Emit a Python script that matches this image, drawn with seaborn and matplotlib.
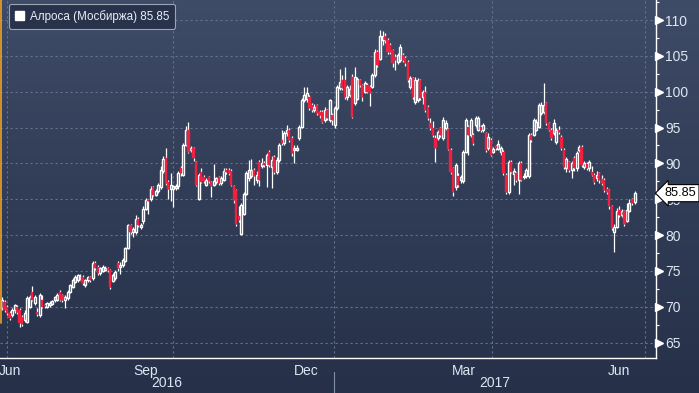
import numpy as np
import matplotlib
matplotlib.use("Agg")
import matplotlib.pyplot as plt
import matplotlib.transforms as mtransforms
from matplotlib.colors import LinearSegmentedColormap
from matplotlib.patches import Patch
from matplotlib.lines import Line2D
import seaborn as sns

# ALROSA (MOEX) daily candles, Jun 2016 - Jun 2017
opens = [
    69.9, 70.7, 70.0, 69.2, 68.9, 69.5, 70.0, 69.6, 68.6, 68.2, 67.9, 70.0,
    72.1, 70.6, 69.3, 68.9, 71.0, 70.3, 70.0, 70.2, 70.4, 70.9, 71.0, 72.1,
    71.6, 70.9, 71.2, 72.1, 72.8, 73.5, 73.7, 74.0, 74.2, 73.0, 73.7, 74.1,
    74.0, 76.1, 75.6, 74.7, 75.0, 75.2, 75.4, 75.1, 73.6, 74.0, 76.1, 75.5,
    75.8, 76.4, 78.2, 81.4, 80.4, 80.5, 82.3, 81.1, 81.9, 83.7, 84.9, 85.1,
    86.7, 85.6, 86.1, 86.7, 88.9, 90.7, 87.4, 86.4, 86.5, 86.6, 86.8, 89.3,
    88.4, 92.6, 94.7, 91.9, 92.1, 90.2, 85.1, 88.85, 88.1, 87.0, 88.1, 87.4,
    87.0, 87.4, 88.1, 87.2, 87.7, 89.1, 89.1, 89.0, 86.8, 86.3, 82.6, 80.2,
    83.0, 85.8, 87.9, 88.2, 89.1, 87.7, 90.2, 89.6, 90.0, 89.8, 91.6, 89.5,
    90.9, 88.8, 90.5, 93.3, 92.8, 94.2, 94.7, 93.5, 91.8, 91.9, 93.5, 95.1,
    98.8, 99.0, 99.3, 98.1, 97.4, 98.1, 97.2, 97.2, 96.1, 97.4, 96.0, 96.7,
    95.4, 97.7, 100.5, 101.6, 101.6, 99.3, 99.5, 102.1, 98.4, 99.0, 101.6, 100.9,
    100.0, 101.0, 100.7, 100.7, 102.3, 105.6, 104.6, 107.2, 107.7, 107.2, 106.5, 105.8,
    104.9, 104.2, 104.4, 105.1, 104.7, 104.2, 100.7, 101.9, 98.6, 98.9, 101.6, 99.3,
    100.0, 97.9, 95.6, 94.9, 93.5, 93.5, 94.9, 93.5, 95.0, 94.8, 91.9, 89.3,
    86.7, 88.3, 87.7, 87.5, 91.6, 95.1, 94.0, 94.0, 95.4, 94.7, 95.1, 94.7,
    94.2, 92.1, 93.3, 91.6, 92.4, 92.0, 91.6, 91.6, 88.4, 86.0, 90.2, 88.5,
    88.6, 87.7, 90.0, 88.1, 88.2, 88.2, 94.0, 94.0, 94.7, 95.1, 97.0, 97.2,
    98.4, 95.6, 94.7, 94.2, 93.0, 94.7, 93.7, 91.9, 89.3, 90.2, 89.1, 90.7,
    89.3, 91.9, 92.3, 89.5, 89.9, 89.3, 88.8, 88.4, 87.9, 88.6, 87.8, 87.7,
    86.5, 86.3, 84.0, 80.5, 81.2, 83.5, 82.8, 83.3, 82.0, 83.4, 85.0, 84.6,
]
highs = [
    71.4, 71.0, 70.3, 69.4, 69.8, 70.4, 70.2, 69.8, 68.9, 69.5, 71.5, 71.7,
    72.9, 71.6, 69.8, 71.9, 71.6, 70.5, 70.7, 70.8, 71.0, 71.5, 71.9, 72.4,
    71.8, 71.6, 72.3, 73.2, 74.0, 74.4, 74.6, 74.6, 74.5, 73.9, 74.3, 74.3,
    76.4, 76.4, 75.8, 75.6, 75.8, 75.7, 75.6, 75.3, 74.7, 75.1, 76.4, 76.2,
    76.8, 78.4, 81.6, 81.6, 81.2, 82.8, 82.5, 81.7, 84.0, 85.2, 85.1, 86.9,
    86.9, 86.4, 87.3, 89.6, 91.0, 92.1, 87.7, 88.7, 87.0, 87.1, 88.9, 89.6,
    92.9, 95.2, 95.8, 92.4, 92.3, 90.4, 88.6, 89.3, 88.4, 88.0, 88.3, 87.6,
    89.9, 88.1, 88.3, 88.2, 89.4, 89.4, 89.3, 89.2, 87.0, 86.5, 84.0, 84.5,
    86.0, 89.0, 90.5, 90.6, 89.4, 88.9, 90.5, 90.8, 90.3, 91.5, 91.8, 91.0,
    91.2, 90.9, 92.9, 94.6, 94.5, 95.4, 95.0, 93.8, 92.5, 92.6, 95.4, 99.1,
    100.6, 100.6, 99.5, 98.4, 98.3, 98.3, 97.5, 97.4, 97.8, 97.6, 99.0, 97.0,
    98.0, 101.0, 103.1, 102.3, 103.5, 101.0, 100.9, 102.5, 103.4, 102.1, 101.8, 101.1,
    101.5, 101.2, 100.9, 102.6, 105.9, 105.8, 108.6, 108.4, 108.2, 107.5, 106.8, 106.0,
    105.3, 105.4, 106.7, 105.4, 105.0, 104.4, 102.2, 102.1, 102.0, 101.9, 101.8, 100.3,
    100.8, 98.1, 96.3, 95.9, 94.0, 94.7, 95.1, 96.5, 96.0, 95.0, 92.1, 89.5,
    90.0, 88.6, 88.4, 91.9, 96.3, 95.3, 96.3, 94.2, 96.6, 96.6, 95.3, 95.6,
    94.4, 94.2, 93.5, 92.3, 92.6, 93.2, 92.4, 91.8, 88.6, 90.5, 90.5, 89.3,
    88.8, 90.3, 90.3, 88.6, 89.4, 94.3, 94.2, 96.3, 96.2, 98.4, 98.6, 101.2,
    98.6, 95.8, 94.9, 96.2, 95.0, 95.2, 93.9, 92.1, 90.9, 90.4, 90.3, 91.0,
    91.7, 92.6, 92.5, 90.4, 90.2, 90.5, 89.6, 88.6, 88.9, 88.8, 88.4, 87.9,
    86.7, 86.5, 84.2, 81.5, 83.8, 84.0, 83.6, 83.5, 84.5, 85.0, 85.2, 86.2,
]
lows = [
    69.6, 69.3, 68.8, 68.2, 68.6, 69.2, 69.0, 67.2, 67.3, 67.9, 67.7, 69.8,
    70.8, 70.3, 68.7, 68.6, 69.8, 69.9, 69.8, 70.0, 70.2, 70.7, 70.8, 70.8,
    70.7, 69.8, 71.0, 71.9, 72.6, 73.3, 73.5, 73.8, 73.0, 72.8, 73.5, 73.5,
    73.8, 75.2, 74.5, 74.5, 74.8, 75.0, 74.9, 72.5, 73.4, 73.8, 75.0, 74.6,
    75.5, 76.2, 78.0, 80.2, 79.7, 80.2, 81.1, 80.9, 81.6, 83.5, 83.0, 84.8,
    85.4, 85.5, 85.9, 86.5, 88.6, 87.0, 85.0, 84.7, 83.9, 86.3, 86.5, 88.3,
    88.2, 92.4, 91.4, 91.6, 90.4, 86.8, 84.9, 87.2, 87.2, 86.8, 87.2, 85.3,
    86.8, 87.1, 87.0, 87.0, 87.5, 88.5, 88.4, 86.8, 84.5, 81.3, 81.8, 80.0,
    82.8, 85.6, 87.5, 87.9, 87.0, 87.3, 86.9, 89.3, 89.5, 86.7, 89.5, 86.6,
    88.5, 88.5, 90.2, 92.5, 92.5, 93.8, 93.0, 91.1, 90.0, 91.7, 93.2, 94.9,
    98.6, 98.5, 97.4, 97.1, 97.2, 96.7, 96.4, 95.6, 95.8, 96.0, 95.8, 95.3,
    95.0, 97.5, 100.2, 100.2, 99.0, 98.9, 99.2, 96.3, 98.2, 98.8, 100.6, 98.7,
    99.8, 99.8, 98.0, 100.5, 102.1, 103.4, 104.4, 106.5, 106.8, 105.3, 105.2, 103.5,
    103.0, 103.8, 104.1, 104.1, 103.6, 101.3, 100.4, 99.0, 98.3, 98.6, 98.9, 98.3,
    97.1, 96.0, 94.6, 93.7, 90.2, 93.2, 93.7, 93.2, 94.6, 91.8, 88.5, 85.5,
    86.3, 86.7, 87.3, 87.3, 91.4, 91.2, 93.7, 92.6, 95.1, 94.5, 94.4, 94.4,
    91.6, 91.8, 91.0, 91.4, 91.8, 91.8, 91.2, 88.4, 85.7, 85.8, 88.6, 87.0,
    87.4, 85.8, 87.5, 87.8, 88.0, 88.0, 93.0, 93.8, 94.5, 94.9, 96.8, 96.9,
    95.4, 94.5, 93.3, 93.9, 92.7, 94.1, 91.9, 89.2, 88.8, 88.8, 88.0, 89.0,
    89.0, 91.6, 89.5, 89.2, 89.1, 89.0, 88.2, 87.1, 87.6, 87.3, 87.0, 86.0,
    85.7, 83.7, 80.7, 77.7, 81.0, 82.5, 82.5, 81.3, 81.8, 83.2, 84.2, 84.4,
]
closes = [
    71.0, 69.6, 69.1, 68.5, 69.6, 70.2, 69.3, 67.8, 67.6, 69.2, 71.2, 71.4,
    71.0, 71.4, 69.0, 71.6, 70.0, 70.1, 70.5, 70.6, 70.8, 71.3, 71.6, 71.0,
    70.9, 71.3, 72.1, 73.0, 73.7, 74.2, 74.4, 74.2, 73.3, 73.7, 74.1, 73.7,
    76.1, 75.4, 74.7, 75.4, 75.6, 75.4, 75.2, 72.8, 74.5, 74.9, 75.4, 75.9,
    76.5, 78.2, 81.4, 80.5, 80.8, 82.3, 81.4, 81.4, 83.7, 84.9, 84.7, 86.5,
    85.6, 86.1, 87.0, 89.1, 90.6, 87.2, 86.5, 87.0, 86.8, 86.9, 88.6, 88.6,
    92.6, 94.7, 91.6, 92.1, 90.7, 87.0, 88.4, 87.45, 87.5, 87.7, 87.5, 86.8,
    87.5, 87.9, 87.2, 87.9, 89.0, 88.8, 88.6, 87.0, 84.9, 81.6, 82.1, 84.2,
    85.8, 88.6, 89.1, 89.1, 88.2, 88.4, 87.7, 90.0, 89.8, 91.2, 89.8, 90.5,
    88.8, 90.5, 92.6, 92.8, 94.2, 94.6, 93.3, 91.4, 92.1, 92.2, 95.1, 98.8,
    99.5, 99.8, 97.7, 97.4, 97.9, 97.0, 96.7, 95.8, 97.4, 96.3, 98.8, 96.0,
    97.7, 100.7, 101.4, 100.5, 99.3, 100.7, 100.4, 96.5, 102.1, 101.8, 100.9, 99.3,
    101.2, 100.0, 99.8, 102.3, 105.6, 103.7, 107.7, 107.8, 107.2, 105.6, 105.6, 104.0,
    104.4, 105.1, 106.3, 104.4, 104.0, 101.6, 101.9, 99.3, 101.6, 101.6, 99.1, 100.0,
    97.4, 96.3, 94.9, 94.0, 92.1, 94.4, 94.0, 96.0, 95.6, 92.0, 88.8, 86.0,
    89.8, 87.0, 88.1, 91.6, 96.0, 94.0, 96.0, 92.8, 96.3, 96.3, 94.7, 95.4,
    91.9, 93.7, 91.2, 92.0, 92.1, 92.7, 92.1, 88.6, 86.0, 90.2, 88.8, 89.0,
    87.7, 90.0, 87.7, 88.3, 89.1, 94.0, 93.3, 96.0, 95.8, 98.1, 98.1, 98.1,
    95.6, 94.7, 93.5, 95.6, 94.7, 94.4, 92.1, 89.5, 90.6, 89.1, 90.0, 89.3,
    91.4, 92.3, 89.8, 90.0, 89.3, 90.2, 88.4, 87.4, 88.4, 87.7, 87.3, 86.3,
    86.0, 84.0, 81.0, 81.2, 83.3, 82.8, 83.3, 81.6, 83.5, 84.5, 84.5, 85.85,
]

# calendar positions (in trading-day index)
month_starts = [1.98, 23.0, 46.0, 67.9, 88.9, 109.9, 131.7, 154.4, 172.2, 194.4, 214.3, 234.3, 255.2]
quarter_starts = [1.98, 67.9, 131.7, 194.4, 255.2]
month_labels = ["Jun", "Sep", "Dec", "Mar", "Jun"]
month_label_pos = [3.2, 56.9, 120.8, 183.3, 244.7]
year_labels = ["2016", "2017"]
year_label_pos = [65.5, 195.5]
last_price = 85.85

TEXT = "#dde6f2"
GRID = "#61738f"
UP = "white"
DOWN = "#f2203f"

sns.set_style("dark")
plt.rcParams["font.family"] = ["Liberation Sans", "DejaVu Sans"]

fig = plt.figure(figsize=(6.99, 3.93), dpi=100)

# gradient background
bg = fig.add_axes([0, 0, 1, 1], zorder=-5)
cmap = LinearSegmentedColormap.from_list("bb", ["#263049", "#313c56", "#3f4c67"])
bg.imshow(np.linspace(0, 1, 256).reshape(-1, 1), aspect="auto", cmap=cmap,
          origin="lower", extent=[0, 1, 0, 1])
bg.set_axis_off()

ax = fig.add_axes([0, 35 / 393, 655.7 / 699, 358 / 393])
ax.patch.set_alpha(0)

x = np.arange(len(closes))
o = np.array(opens)
c = np.array(closes)
h = np.array(highs)
l = np.array(lows)
up = c >= o
body_lo = np.minimum(o, c)
body_hi = np.maximum(o, c)
body_h = np.maximum(body_hi - body_lo, 0.15)

ax.vlines(x, body_hi, h, color="white", lw=0.9, zorder=3)
ax.vlines(x, l, body_lo, color="white", lw=0.9, zorder=3)
ax.bar(x[up], body_h[up], bottom=body_lo[up], width=0.8, facecolor="none",
       edgecolor=UP, linewidth=1.0, zorder=4)
ax.bar(x[~up], body_h[~up], bottom=body_lo[~up], width=0.9, color=DOWN,
       edgecolor=DOWN, linewidth=0.3, zorder=4)

ax.set_xlim(-0.79, 259.4)
ax.set_ylim(62.86, 112.79)

# grid
for q in quarter_starts:
    ax.axvline(q, color=GRID, lw=0.8, ls=(0, (2, 2.5)), zorder=1)
for yv in range(65, 111, 5):
    ax.axhline(yv, color=GRID, lw=0.8, ls=(0, (2, 2.5)), zorder=1)

# spines
for s in ["top", "left"]:
    ax.spines[s].set_visible(False)
for s in ["right", "bottom"]:
    ax.spines[s].set_visible(True)
    ax.spines[s].set_color("white")
    ax.spines[s].set_linewidth(1.0)

# y axis on right
ax.yaxis.tick_right()
ax.set_yticks(list(range(65, 111, 5)))
ax.set_yticks([v + 2.5 for v in range(65, 111, 5)], minor=True)
ax.tick_params(axis="y", which="major", length=0, pad=7, labelsize=10, labelcolor=TEXT)
ax.tick_params(axis="y", which="minor", length=2.5, width=0.8, color="white", direction="out")
tri = mtransforms.offset_copy(ax.get_yaxis_transform(), fig=fig, x=3.5, y=0, units="dots")
ax.plot(np.ones(10), list(range(65, 111, 5)), ls="none", marker=">", ms=5.5,
        color="white", transform=tri, clip_on=False, zorder=6)

# x axis
ax.set_xticks(month_label_pos)
ax.set_xticklabels(month_labels)
ax.set_xticks(month_starts, minor=True)
ax.tick_params(axis="x", which="major", length=0, pad=4, labelsize=10, labelcolor=TEXT)
ax.tick_params(axis="x", which="minor", length=3.5, width=0.8, color="white", direction="out")
ax.set_xlabel("")
ax.set_ylabel("")

xt = ax.get_xaxis_transform()
for lab, pos in zip(year_labels, year_label_pos):
    ax.text(pos, -0.07, lab, transform=xt, ha="center", va="center",
            fontsize=10, color=TEXT, clip_on=False)
ax.plot([quarter_starts[2]] * 2, [-0.04, -0.1], transform=xt, color="#8090a8",
        lw=0.8, clip_on=False)

# last price tag
tag = mtransforms.offset_copy(ax.get_yaxis_transform(), fig=fig, x=9, y=0, units="dots")
ax.text(1.0, last_price, f"{last_price:.2f}", transform=tag, ha="left", va="center",
        fontsize=9.2, color="black", zorder=10, clip_on=False,
        bbox=dict(boxstyle="larrow,pad=0.2", fc="white", ec="black", lw=0.8))

# left orange marker
fig.add_artist(Line2D([0.0012, 0.0012], [1.0, (393 - 323) / 393], color="#f0a020", lw=1.2))

# legend
leg = ax.legend(handles=[Patch(facecolor="white", edgecolor="white")],
                labels=[f"Алроса (Мосбиржа) {last_price:.2f}"],
                loc="upper left", bbox_to_anchor=(9 / 699, 1 - 4 / 393),
                bbox_transform=fig.transFigure, borderaxespad=0, frameon=True,
                fancybox=True, framealpha=1, facecolor="#28324b", edgecolor="#9aa4b4",
                fontsize=8.4, labelcolor="#e8eef6", handlelength=0.8, handleheight=0.8,
                handletextpad=0.5, borderpad=0.5)
leg.get_frame().set_linewidth(0.8)

fig.savefig("out.png", dpi=100)
